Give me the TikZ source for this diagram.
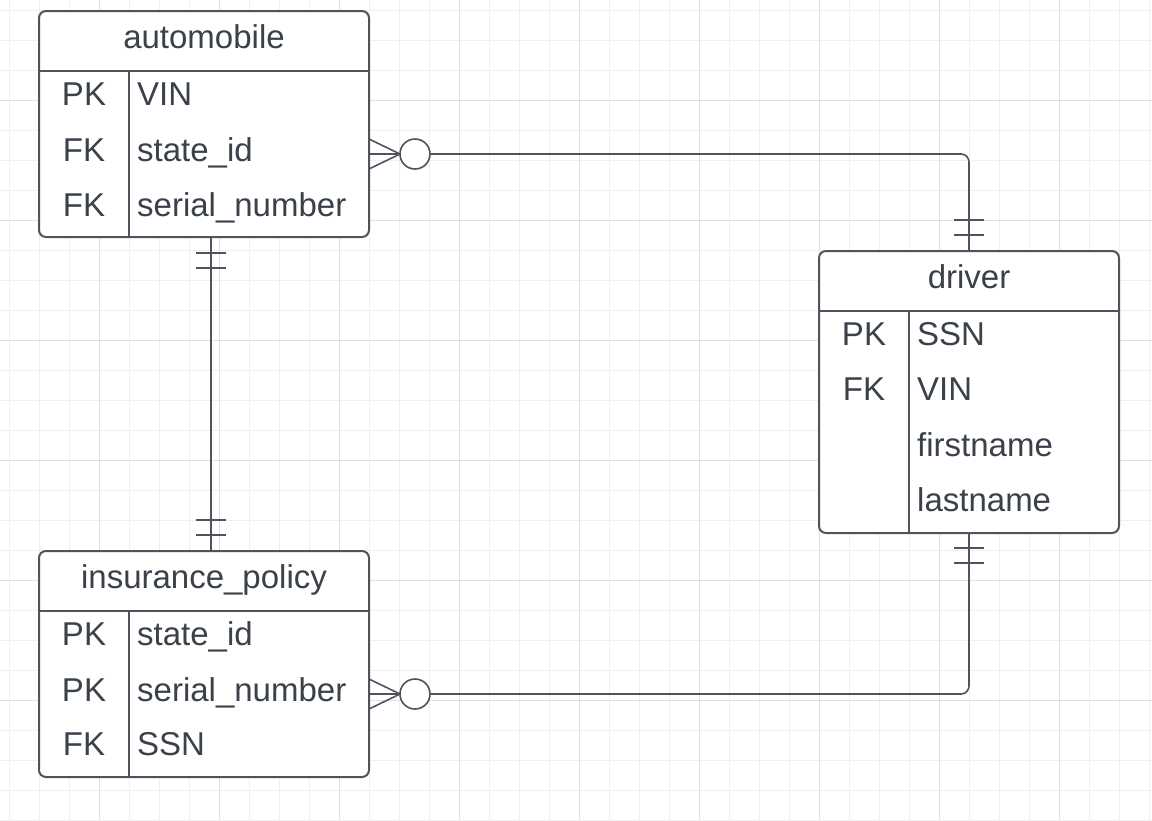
\documentclass[tikz,border=0pt]{standalone}
\usepackage{fontspec}
\setmainfont{Liberation Sans}
\definecolor{linec}{RGB}{79,84,92}
\definecolor{textc}{RGB}{58,65,74}
\definecolor{gridminor}{RGB}{239,239,239}
\definecolor{gridmajor}{RGB}{224,224,224}
\begin{document}
\begin{tikzpicture}[x=1pt,y=-1pt,
  tbl/.style={draw=linec,line width=2pt,rounded corners=7pt,fill=white,inner sep=0pt,outer sep=0pt},
  sep/.style={draw=linec,line width=2pt},
  conn/.style={draw=linec,line width=1.6pt},
  zero/.style={draw=linec,line width=1.6pt,circle,minimum size=30pt,inner sep=0pt,fill=white},
  txt/.style={text=textc,inner sep=0pt,font=\fontsize{33}{40}\selectfont},
  ttl/.style={txt,anchor=base},
  key/.style={txt,anchor=base},
  fld/.style={txt,anchor=base west}]
\useasboundingbox (0,0) rectangle (1152,820);
\fill[white] (0,0) rectangle (1152,820);
% grid
\foreach \k in {0,...,38} {\draw[gridminor,line width=1pt] ({9.3+30*\k},0) -- ({9.3+30*\k},820);}
\foreach \k in {0,...,27} {\draw[gridminor,line width=1pt] (0,{10+30*\k}) -- (1152,{10+30*\k});}
\foreach \k in {0,...,8} {\draw[gridmajor,line width=1pt] ({99.3+120*\k},0) -- ({99.3+120*\k},820);}
\foreach \k in {0,...,5} {\draw[gridmajor,line width=1pt] (0,{100+120*\k}) -- (1152,{100+120*\k});}

% automobile
\node[tbl,minimum width=330pt,minimum height=226pt] (auto) at (204,124) {};
\draw[sep] (39,71) -- (369,71);
\draw[sep] (129,71) -- (129,237);
\node[ttl] (autoT) at (204,48) {automobile};
\node[key] (autoK1) at (84,105) {PK};
\node[fld] (autoF1) at (137,105) {VIN};
\node[key] (autoK2) at (84,161) {FK};
\node[fld] (autoF2) at (137,161) {state\_id};
\node[key] (autoK3) at (84,216) {FK};
\node[fld] (autoF3) at (137,216) {serial\_number};

% driver
\node[tbl,minimum width=300pt,minimum height=282pt] (driver) at (969,392) {};
\draw[sep] (819,311) -- (1119,311);
\draw[sep] (909,311) -- (909,533);
\node[ttl] (drvT) at (969,288.5) {driver};
\node[key] (drvK1) at (864,345) {PK};
\node[fld] (drvF1) at (917,345) {SSN};
\node[key] (drvK2) at (864,400.5) {FK};
\node[fld] (drvF2) at (917,400.5) {VIN};
\node[fld] (drvF3) at (917,456) {firstname};
\node[fld] (drvF4) at (917,511.5) {lastname};

% insurance_policy
\node[tbl,minimum width=330pt,minimum height=226pt] (ins) at (204,664) {};
\draw[sep] (39,611) -- (369,611);
\draw[sep] (129,611) -- (129,777);
\node[ttl] (insT) at (204,588) {insurance\_policy};
\node[key] (insK1) at (84,645) {PK};
\node[fld] (insF1) at (137,645) {state\_id};
\node[key] (insK2) at (84,701) {PK};
\node[fld] (insF2) at (137,701) {serial\_number};
\node[key] (insK3) at (84,755.5) {FK};
\node[fld] (insF3) at (137,755.5) {SSN};

% connector coordinates
\coordinate (a1) at (369,154);
\coordinate (a2) at (211,237);
\coordinate (i1) at (211,551);
\coordinate (i2) at (369,694);
\coordinate (d1) at (969,251);
\coordinate (d2) at (969,533);

% automobile -> driver (zero or many : one and only one)
\draw[conn] (a1) -- ++(31,0);
\draw[conn] ([shift={(0,-15)}]a1) -- ++(31,15) -- ([shift={(0,15)}]a1);
\node[zero] (o1) at ([shift={(46,0)}]a1) {};
\draw[conn,rounded corners=8pt] (o1.east) -| (d1);
\draw[conn] ([shift={(-15,-31)}]d1) -- ++(30,0);
\draw[conn] ([shift={(-15,-16)}]d1) -- ++(30,0);

% automobile -> insurance_policy (one and only one both ends)
\draw[conn] (a2) -- (i1);
\draw[conn] ([shift={(-15,16)}]a2) -- ++(30,0);
\draw[conn] ([shift={(-15,31)}]a2) -- ++(30,0);
\draw[conn] ([shift={(-15,-31)}]i1) -- ++(30,0);
\draw[conn] ([shift={(-15,-16)}]i1) -- ++(30,0);

% driver -> insurance_policy
\draw[conn] (i2) -- ++(31,0);
\draw[conn] ([shift={(0,-15)}]i2) -- ++(31,15) -- ([shift={(0,15)}]i2);
\node[zero] (o2) at ([shift={(46,0)}]i2) {};
\draw[conn,rounded corners=8pt] (o2.east) -| (d2);
\draw[conn] ([shift={(-15,15)}]d2) -- ++(30,0);
\draw[conn] ([shift={(-15,30)}]d2) -- ++(30,0);
\end{tikzpicture}
\end{document}
